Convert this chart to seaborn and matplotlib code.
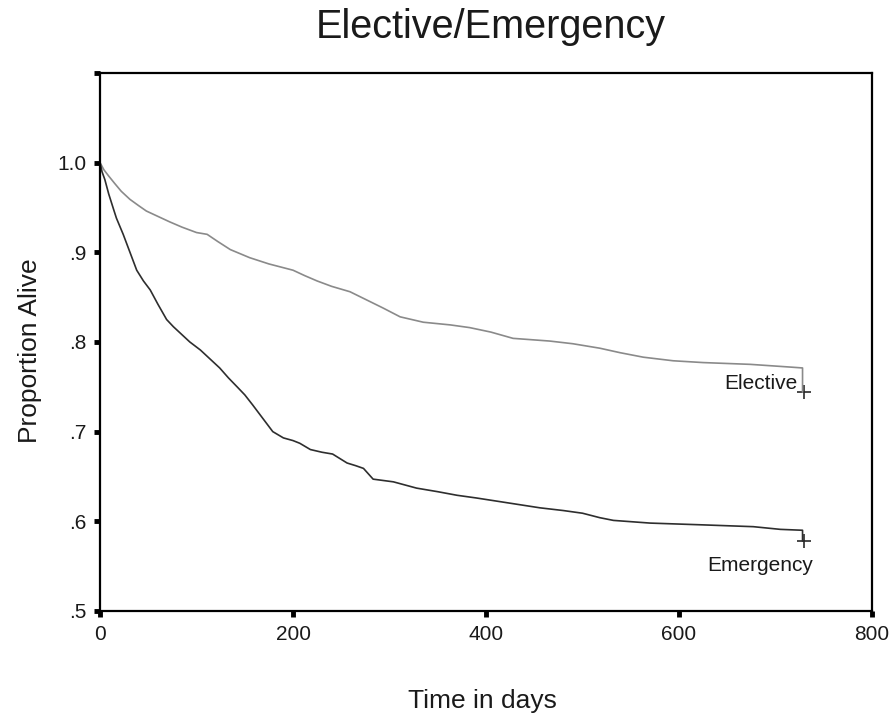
import numpy as np
import pandas as pd
import matplotlib
matplotlib.use("Agg")
import matplotlib.pyplot as plt
import seaborn as sns

# Kaplan-Meier estimates (days, proportion alive) for each admission type
elective_days = [0, 4, 9, 15, 22, 31, 40, 48, 60, 72, 85, 100, 111, 122, 135,
                 155, 175, 200, 212, 225, 240, 259, 276, 293, 311, 335, 363,
                 383, 405, 428, 466, 490, 518, 539, 563, 594, 625, 674, 715,
                 728, 728]
elective_surv = [1.000, 0.992, 0.985, 0.977, 0.968, 0.959, 0.952, 0.946, 0.940,
                 0.934, 0.928, 0.922, 0.920, 0.912, 0.903, 0.894, 0.887, 0.880,
                 0.874, 0.868, 0.862, 0.856, 0.847, 0.838, 0.828, 0.822, 0.819,
                 0.816, 0.811, 0.804, 0.801, 0.798, 0.793, 0.788, 0.783, 0.779,
                 0.777, 0.775, 0.772, 0.771, 0.744]

emergency_days = [0, 2, 5, 9, 14, 17, 24, 31, 38, 45, 52, 60, 69, 76, 83, 93,
                  104, 114, 124, 133, 142, 150, 158, 165, 172, 179, 190, 200,
                  207, 218, 230, 241, 256, 265, 273, 283, 304, 328, 350, 370,
                  390, 408, 432, 456, 480, 500, 518, 532, 570, 625, 677, 705,
                  728, 728]
emergency_surv = [1.000, 0.990, 0.981, 0.965, 0.948, 0.938, 0.920, 0.900, 0.880,
                  0.868, 0.858, 0.842, 0.825, 0.817, 0.810, 0.800, 0.791, 0.781,
                  0.771, 0.760, 0.750, 0.741, 0.730, 0.720, 0.710, 0.700, 0.693,
                  0.690, 0.687, 0.680, 0.677, 0.675, 0.665, 0.662, 0.659, 0.647,
                  0.644, 0.637, 0.633, 0.629, 0.626, 0.623, 0.619, 0.615, 0.612,
                  0.609, 0.604, 0.601, 0.598, 0.596, 0.594, 0.591, 0.590, 0.578]

groups = ["Elective", "Emergency"]
censor_days = [730, 730]
censor_surv = [elective_surv[-1], emergency_surv[-1]]

y_ticks = [0.5, 0.6, 0.7, 0.8, 0.9, 1.0, 1.1]
y_tick_labels = [".5", ".6", ".7", ".8", ".9", "1.0", ""]
x_ticks = [0, 200, 400, 600, 800]
x_tick_labels = ["0", "200", "400", "600", "800"]

curves = pd.concat([
    pd.DataFrame({"days": elective_days, "surv": elective_surv, "group": groups[0]}),
    pd.DataFrame({"days": emergency_days, "surv": emergency_surv, "group": groups[1]}),
], ignore_index=True)
censored = pd.DataFrame({"days": censor_days, "surv": censor_surv, "group": groups})

sns.set_style("white")
plt.rcParams["font.family"] = ["Liberation Sans", "DejaVu Sans"]
plt.rcParams["text.color"] = "#1a1a1a"

fig = plt.figure(figsize=(8.9, 7.15), dpi=100)
ax = fig.add_axes([0.1124, 0.1455, 0.8674, 0.7525])

palette = {"Elective": "#8a8a8a", "Emergency": "#2e2e2e"}
sns.lineplot(data=curves, x="days", y="surv", hue="group", palette=palette,
             estimator=None, sort=False, linewidth=1.2, legend=False, ax=ax)
sns.scatterplot(data=censored, x="days", y="surv", color="#2a2a2a",
                marker="+", s=110, linewidth=1.2, legend=False, ax=ax)

ax.set_xlim(0, 800)
ax.set_ylim(0.5, 1.1)
ax.set_xticks(x_ticks)
ax.set_xticklabels(x_tick_labels)
ax.set_yticks(y_ticks)
ax.set_yticklabels(y_tick_labels)
ax.tick_params(axis="both", direction="out", length=4, width=3.5,
               color="black", labelsize=15, labelcolor="#1a1a1a", pad=6,
               bottom=True, left=True)
for spine in ax.spines.values():
    spine.set_visible(True)
    spine.set_color("black")
    spine.set_linewidth(1.6)

ax.set_xlabel("")
ax.set_ylabel("")
fig.text(0.5416, 1 - 708 / 715, "Time in days", ha="center", va="baseline",
         fontsize=19)
fig.text(0.034, 0.51, "Proportion Alive", ha="center", va="center",
         rotation=90, fontsize=19)
fig.text(0.551, 1 - 38 / 715, "Elective/Emergency", ha="center",
         va="baseline", fontsize=28.5)

ax.text(723, 0.754, "Elective", ha="right", va="center", fontsize=15)
ax.text(739, 0.551, "Emergency", ha="right", va="center", fontsize=15)

fig.savefig("out.png", dpi=100, facecolor="white")
